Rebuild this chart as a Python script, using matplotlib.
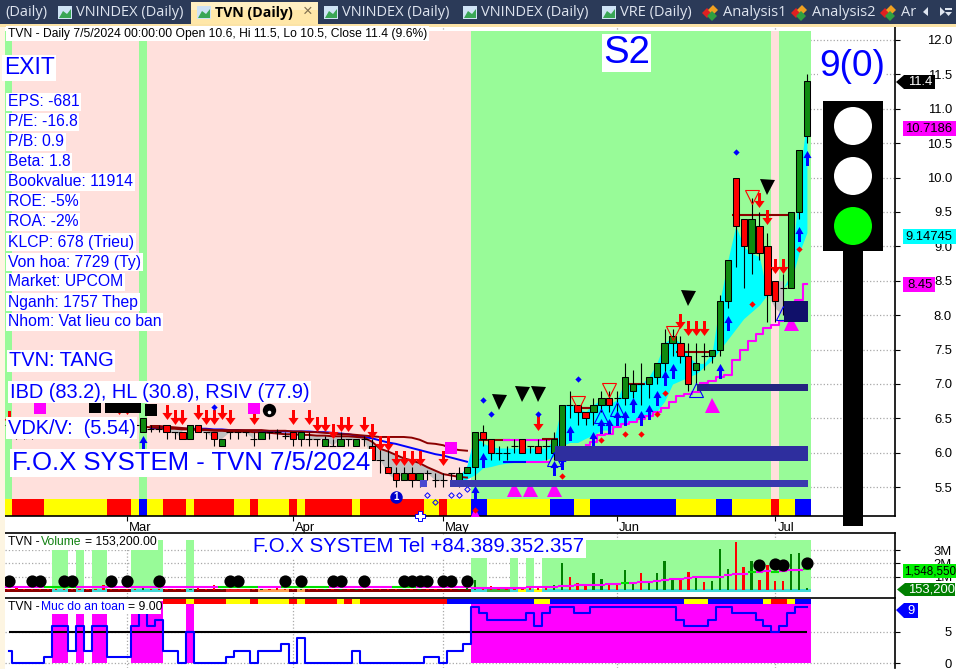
import numpy as np
import matplotlib

matplotlib.use("Agg")
import matplotlib.pyplot as plt
from matplotlib.patches import Circle, Polygon, Rectangle
from matplotlib.path import Path
from matplotlib.transforms import ScaledTranslation

plt.rcParams["font.family"] = ["Liberation Sans", "DejaVu Sans"]

W, H = 956, 669
BLUE = "#0000ff"
PINK_BG = "#ffe0dc"
GREEN_BG = "#98fb98"

# ── Price data ────────────────────────────────────────────────────────────
opens = [6.4, 6.3, 6.3, 6.3, 6.4, 6.4, 6.4, 6.4, 6.4, 6.4, 6.4, 6.4, 6.4, 6.4, 6.4, 6.4, 6.4,
         6.3, 6.35, 6.35, 6.4, 6.3, 6.3, 6.2, 6.4, 6.3, 6.3, 6.1, 6.3, 6.3, 6.3, 6.2, 6.2, 6.3,
         6.3, 6.25, 6.3, 6.2, 6.2, 6.2, 6.1, 6.1, 6.1, 6.2, 6.1, 6.2, 6.1, 5.9, 5.8, 5.7, 5.6,
         5.7, 5.6, 5.7, 5.6, 5.6, 5.7, 5.6, 5.7, 5.8, 6.3, 6.2, 6.0, 6.0, 6.1, 6.2, 6.1, 6.1,
         6.1, 6.0, 6.1, 6.7, 6.7, 6.6, 6.6, 6.7, 6.8, 6.8, 6.8, 6.9, 7.0, 7.0, 7.1, 7.3, 7.6,
         7.6, 7.4, 7.2, 7.4, 7.4, 7.5, 8.2, 10.0, 9.4, 8.9, 9.3, 9.0, 8.5, 8.4, 8.4, 9.5, 10.6]
highs = [6.5, 6.4, 6.4, 6.4, 6.5, 6.5, 6.5, 6.5, 6.5, 6.5, 6.5, 6.5, 6.5, 6.5, 6.5, 6.5, 6.5,
         6.5, 6.4, 6.4, 6.4, 6.3, 6.3, 6.4, 6.4, 6.3, 6.3, 6.2, 6.3, 6.3, 6.3, 6.3, 6.3, 6.3,
         6.35, 6.3, 6.3, 6.3, 6.3, 6.2, 6.25, 6.2, 6.3, 6.2, 6.2, 6.25, 6.2, 6.1, 6.1, 5.8, 5.8,
         5.8, 5.7, 5.75, 5.7, 5.7, 5.7, 5.8, 5.8, 6.3, 6.4, 6.2, 6.1, 6.1, 6.2, 6.2, 6.1, 6.2,
         6.2, 6.3, 6.7, 6.9, 6.7, 6.6, 6.8, 6.9, 6.9, 6.9, 7.3, 7.2, 7.3, 7.1, 7.3, 7.8, 7.8,
         7.7, 7.6, 7.6, 7.6, 7.5, 8.3, 8.8, 10.0, 9.4, 9.7, 9.5, 9.2, 8.5, 8.6, 9.5, 10.4, 11.5]
lows = [6.3, 6.2, 6.2, 6.2, 6.3, 6.3, 6.3, 6.3, 6.3, 6.3, 6.3, 6.3, 6.3, 6.3, 6.3, 6.3, 6.3,
        6.3, 6.3, 6.3, 6.2, 6.2, 6.2, 6.2, 6.3, 6.2, 6.1, 6.1, 6.2, 6.2, 6.25, 6.1, 6.2, 6.2,
        6.2, 6.2, 6.1, 6.1, 6.1, 6.1, 6.1, 6.1, 6.1, 6.1, 6.1, 6.1, 5.9, 5.7, 5.7, 5.5, 5.6,
        5.5, 5.5, 5.6, 5.5, 5.5, 5.6, 5.5, 5.7, 5.6, 6.1, 5.9, 5.9, 5.9, 6.0, 6.0, 6.0, 6.0,
        5.9, 5.9, 6.1, 6.5, 6.4, 6.4, 6.4, 6.6, 6.6, 6.6, 6.7, 6.8, 6.7, 6.8, 7.0, 7.1, 7.4,
        7.3, 6.9, 7.0, 7.2, 7.3, 7.4, 8.1, 8.7, 8.4, 8.6, 8.8, 7.9, 7.9, 8.0, 8.4, 9.4, 10.5]
closes = [6.4, 6.3, 6.3, 6.3, 6.4, 6.4, 6.4, 6.4, 6.4, 6.4, 6.4, 6.4, 6.4, 6.4, 6.4, 6.4, 6.4,
          6.5, 6.35, 6.35, 6.3, 6.3, 6.2, 6.4, 6.3, 6.3, 6.2, 6.2, 6.3, 6.3, 6.3, 6.2, 6.3, 6.3,
          6.3, 6.25, 6.2, 6.3, 6.2, 6.2, 6.2, 6.1, 6.2, 6.2, 6.2, 6.2, 5.9, 5.9, 5.7, 5.6, 5.7,
          5.6, 5.7, 5.7, 5.6, 5.6, 5.7, 5.7, 5.8, 6.3, 6.2, 6.0, 6.0, 6.0, 6.1, 6.0, 6.1, 6.0,
          6.1, 6.2, 6.7, 6.7, 6.6, 6.5, 6.7, 6.8, 6.7, 6.8, 7.1, 7.0, 7.0, 7.1, 7.3, 7.6, 7.7,
          7.4, 7.0, 7.3, 7.4, 7.5, 8.2, 8.8, 9.3, 9.0, 9.4, 8.9, 8.3, 8.2, 8.4, 9.5, 10.4, 11.4]

# green regime bars, the rest is pink
green_bars = [0, 17] + list(range(59, 97)) + list(range(98, 102))

# colour strip under the candles, as (colour, number of bars)
strip_runs = [("y", 1), ("r", 4), ("y", 8), ("r", 3), ("y", 1), ("b", 1), ("y", 2), ("r", 3),
              ("y", 1), ("r", 5), ("y", 2), ("r", 1), ("y", 4), ("r", 1), ("y", 1), ("r", 6),
              ("y", 1), ("r", 8), ("y", 2), ("r", 1), ("y", 3), ("b", 2), ("y", 8), ("b", 3),
              ("y", 2), ("b", 11), ("y", 5), ("b", 2), ("y", 5), ("r", 1), ("y", 2), ("b", 2)]

ma_hi_start = 18
ma_hi = [6.39, 6.39, 6.38, 6.37, 6.36, 6.35, 6.34, 6.34, 6.33, 6.33, 6.33, 6.33, 6.33, 6.33,
         6.33, 6.32, 6.32, 6.32, 6.31, 6.31, 6.30, 6.30, 6.29, 6.28, 6.27, 6.27, 6.26, 6.25,
         6.24, 6.23, 6.23, 6.23, 6.23, 6.22, 6.19, 6.14, 6.13, 6.11, 6.06, 6.04, 6.03]
ma_blue_start = 18
ma_blue = [6.36, 6.36, 6.36, 6.36, 6.35, 6.35, 6.35, 6.35, 6.34, 6.34, 6.33, 6.33, 6.32, 6.32,
           6.32, 6.31, 6.31, 6.31, 6.31, 6.31, 6.31, 6.30, 6.30, 6.29, 6.28, 6.27, 6.25, 6.23,
           6.21, 6.18, 6.15, 6.13, 6.10, 6.07, 6.04, 6.01, 5.98, 5.96, 5.93, 5.90, 5.87]
ma_lo_start = 17
ma_lo = [6.38, 6.37, 6.36, 6.35, 6.35, 6.34, 6.34, 6.33, 6.33, 6.32, 6.32, 6.31, 6.31, 6.31,
         6.30, 6.30, 6.29, 6.28, 6.27, 6.27, 6.26, 6.26, 6.25, 6.25, 6.24, 6.24, 6.24, 6.23,
         6.22, 6.16, 6.06, 6.02, 5.97, 5.92, 5.89, 5.85, 5.79, 5.74, 5.69, 5.67, 5.65, 5.64]

stop_start = 73
stop_line = [6.11, 6.16, 6.26, 6.27, 6.38, 6.42, 6.45, 6.49, 6.53, 6.60, 6.65, 6.74, 6.82, 6.86,
             6.89, 7.01, 7.04, 7.10, 7.13, 7.35, 7.49, 7.63, 7.73, 7.81, 7.86, 7.91, 8.12,
             8.22, 8.45]

cyan_start = 57
cyan_top = [5.65, 5.82, 6.28, 6.14, 6.09, 6.07, 6.07, 6.07, 6.07, 6.07, 6.07, 6.07, 6.19, 6.70,
            6.70, 6.65, 6.60, 6.70, 6.78, 6.70, 6.78, 7.05, 6.99, 7.00, 7.10, 7.30, 7.60, 7.68,
            7.60, 7.40, 7.30, 7.30, 7.45, 8.20, 8.80, 9.30, 9.00, 8.90, 8.85, 8.30, 8.30, 8.40,
            8.60, 9.90, 10.90]
cyan_bot = [5.56, 5.62, 5.68, 5.78, 5.80, 5.83, 5.85, 5.86, 5.88, 5.88, 5.88, 5.90, 5.95, 6.10,
            6.15, 6.15, 6.21, 6.26, 6.33, 6.33, 6.38, 6.43, 6.45, 6.50, 6.55, 6.60, 6.75, 7.00,
            7.05, 7.10, 7.15, 7.25, 7.35, 7.50, 7.65, 7.80, 7.95, 8.05, 8.15, 8.30, 8.30, 8.40,
            8.50, 8.90, 9.20]
grey_idx = [96, 97, 98]
grey_top = [8.30, 8.50, 8.50]
grey_bot = [8.30, 8.10, 8.00]

# flat segments: first bar, last bar, price, colour
seg_start = [60, 63, 68, 72, 73, 79, 85, 92, 63, 66]
seg_end = [63, 68, 69, 73, 74, 80, 89, 99, 65, 68]
seg_price = [6.18, 6.18, 6.20, 6.65, 6.65, 7.00, 7.47, 9.46, 5.86, 5.86]
seg_color = ["#8b0000", "#ff00ff", "#8b0000", "#ff00ff", "#8b0000", "#8b0000", "#8b0000", "#8b0000",
             BLUE, "#ff00ff"]

# dark blue zones: first bar, last bar, low, high, colour
zone_start = [55.85, 52.0, 69.1, 87.1, 98.1]
zone_end = [101.14, 53.0, 101.14, 101.14, 101.14]
zone_lo = [5.5, 5.5, 5.88, 6.9, 7.9]
zone_hi = [5.6, 5.6, 6.10, 7.0, 8.2]
zone_color = ["#3a3aae", "#4a4ad0", "#2e2e9e", "#24247f", "#10106a"]

up_idx = [17, 59, 60, 69, 70, 71, 74, 75, 76, 77, 78, 79, 80, 81, 82, 83, 84, 90, 91, 100, 101]
up_val = [6.14, 5.41, 5.90, 5.78, 5.87, 6.29, 6.20, 6.39, 6.39, 6.50, 6.50, 6.69, 6.50, 6.59, 6.79,
          7.09, 7.19, 7.19, 7.89, 9.18, 10.29]
down_idx = [0, 14, 15, 20, 21, 22, 24, 25, 26, 27, 28, 31, 36, 38, 39, 40, 41, 42, 43, 45, 46, 47, 48,
            49, 50, 51, 52, 55, 67, 85, 86, 87, 88, 95, 96, 97, 98]
down_val = [6.50, 6.66, 6.66, 6.60, 6.52, 6.52, 6.60, 6.52, 6.52, 6.60, 6.52, 6.52, 6.52, 6.52, 6.42,
            6.42, 6.32, 6.42, 6.42, 6.42, 6.32, 6.14, 6.14, 5.92, 5.92, 5.92, 5.92, 5.92, 6.43, 7.92,
            7.81, 7.81, 7.81, 9.68, 9.43, 8.71, 8.71]
red_tri_idx = [72, 76, 84, 94]
red_tri_val = [6.72, 6.91, 7.74, 9.72]
blue_tri_idx = [69, 75, 77, 87, 98]
blue_tri_val = [5.91, 6.53, 6.63, 6.91, 8.03]
black_tri_idx = [62, 65, 67, 86, 96]
black_tri_val = [6.74, 6.85, 6.85, 8.25, 9.87]
mag_tri_idx = [59, 64, 66, 69, 89, 99]
mag_tri_val = [5.10, 5.47, 5.47, 5.47, 6.70, 7.88]
red_dia_idx = [59, 70, 75, 78, 80, 82, 83, 94, 100]
red_dia_val = [5.17, 5.66, 6.18, 6.28, 6.28, 6.57, 6.87, 8.16, 8.96]
blue_dia_idx = [26, 60, 61, 67, 72, 92]
blue_dia_val = [6.66, 6.77, 6.56, 6.56, 7.07, 10.37]
hollow_dia_idx = [53, 54, 56, 57, 58]
hollow_dia_val = [5.39, 5.29, 5.39, 5.39, 5.48]
mag_sq_idx = [4, 31, 56]
mag_sq_val = [6.65, 6.65, 6.07]
black_sq_idx = [11, 13, 14, 15, 16, 18]
black_sq_val = [6.66, 6.66, 6.66, 6.66, 6.66, 6.62]

month_idx = [15, 36, 55, 77, 97]
month_labels = ["Mar", "Apr", "May", "Jun", "Jul"]
price_ticks = [5.5, 6.0, 6.5, 7.0, 7.5, 8.0, 8.5, 9.0, 9.5, 10.0, 10.5, 11.0, 11.5, 12.0]

# ── Volume data (millions) ────────────────────────────────────────────────
volumes = [0.1, 0.3, 0.08, 0.1, 0.08, 0.1, 0.08, 0.1, 0.08, 0.1, 0.08, 0.1, 0.4, 0.08, 0.1, 0.08, 0.1,
           0.2, 0.08, 0.1, 0.08, 0.1, 0.08, 0.1, 0.2, 0.08, 0.35, 0.1, 0.08, 0.1, 0.08, 0.1, 0.08,
           0.1, 0.2, 0.08, 0.1, 0.08, 0.1, 0.08, 0.1, 0.08, 0.1, 0.08, 0.1, 0.08, 0.1, 0.08, 0.1,
           0.08, 0.1, 0.08, 0.1, 0.08, 0.1, 0.08, 0.1, 0.08, 0.12, 0.75, 0.2, 0.3, 0.12, 0.12, 0.17,
           0.12, 0.12, 0.2, 0.25, 0.38, 2.05, 1.0, 0.55, 0.42, 1.3, 0.82, 0.42, 0.5, 1.5, 0.5, 1.3,
           0.55, 1.3, 2.18, 0.8, 0.88, 1.38, 0.93, 0.62, 0.7, 3.08, 1.58, 3.6, 1.75, 2.2, 0.75, 1.88,
           0.7, 0.7, 2.7, 2.8, 0.1532]
vol_ma = [0.2] * 59 + [0.13, 0.13, 0.14, 0.14, 0.15, 0.16, 0.18, 0.2, 0.22, 0.25, 0.25, 0.3, 0.3, 0.35,
                       0.35, 0.38, 0.4, 0.45, 0.45, 0.5, 0.55, 0.6, 0.62, 0.7, 0.72, 0.8, 0.85, 0.88,
                       0.95, 1.0, 1.0, 1.0, 1.1, 1.2, 1.22, 1.35, 1.35, 1.42, 1.38, 1.45, 1.5, 1.5, 1.55]
vol_ma_green = [5, 6, 7, 8, 27, 28, 29, 30, 31, 35, 36, 37, 38, 39, 40, 49, 50, 51, 78, 94, 97, 101]
vol_green_bg = [6, 7, 9, 11, 12, 16, 17, 18, 19, 23, 59, 60, 64, 66] + list(range(68, 102))
dot_idx = [0, 3, 4, 7, 8, 13, 15, 19, 28, 29, 35, 37, 41, 42, 45, 50, 51, 52, 53, 55, 56, 58,
           95, 97, 98, 101]
dot_val = [0.68] * 22 + [1.85, 1.93, 1.85, 2.0]
vol_strip_runs = [("m", 6), ("t", 2), ("m", 1), ("t", 1), ("m", 1), ("t", 2), ("m", 3), ("t", 4), ("m", 3),
                  ("t", 1), ("m", 4), ("e", 3), ("m", 1), ("o", 4), ("m", 1), ("o", 1), ("m", 21),
                  ("t", 2), ("g", 3), ("t", 1), ("y", 1), ("t", 1), ("y", 1), ("t", 34)]
vol_ticks = [1, 2, 3]
vol_tick_labels = ["1M", "2M", "3M"]

# ── Safety level data ─────────────────────────────────────────────────────
safety = [2, 0, 0, 0, 0, 1, 6, 6, 2, 6, 2, 6, 6, 1, 1, 1, 6, 8, 6, 7, 2, 2, 0, 5, 0, 0, 0, 0, 1, 2, 2, 0,
          2, 2, 2, 3, 0, 4, 0, 0, 0, 0, 0, 0, 2, 0, 0, 0, 0, 0, 0, 0, 0, 1, 1, 0, 2, 2, 3,
          9, 8, 7, 7, 7, 7, 7, 8, 6, 8, 9, 9, 9, 8, 8, 9, 9, 9, 9, 9, 9, 9, 9, 9, 9, 9, 7, 6, 6, 6, 7,
          9, 9, 8, 8, 8, 7, 6, 5, 6, 8, 9, 9]
safe_columns = [6, 7, 9, 11, 12, 16, 17, 18, 19, 23] + list(range(59, 102))
safe_strip_runs = [("r", 23), ("y", 1), ("r", 4), ("y", 3), ("r", 1), ("y", 4), ("r", 1), ("y", 1), ("r", 4),
                   ("y", 1), ("r", 1), ("y", 1), ("r", 11), ("b", 11), ("y", 2), ("b", 17), ("y", 3),
                   ("b", 7), ("y", 1), ("r", 2), ("y", 1), ("b", 2)]
# the strip only shows right of the label
safe_strip_first = 20
safe_ticks = [0, 5]

tabs = [("(Daily)", 5, None), ("VNINDEX (Daily)", 76, "i"), ("VNINDEX (Daily)", 342, "i"),
        ("VNINDEX (Daily)", 481, "i"), ("VRE (Daily)", 620, "i"), ("Analysis1", 723, "h"),
        ("Analysis2", 812, "h"), ("Ar", 901, "h")]
info_lines = ["EPS: -681", "P/E: -16.8", "P/B: 0.9", "Beta: 1.8", "Bookvalue: 11914", "ROE: -5%", "ROA: -2%",
              "KLCP: 678 (Trieu)", "Von hoa: 7729 (Ty)", "Market: UPCOM", "Nganh: 1757 Thep",
              "Nhom: Vat lieu co ban"]


def expand(runs):
    out = []
    for c, n in runs:
        out += [c] * n
    return out


def pix_axes(fig, x0, y0, x1, y1):
    return fig.add_axes([x0 / W, 1 - y1 / H, (x1 - x0) / W, (y1 - y0) / H])


def arrow_marker(direction, half):
    v = [(0, .5), (half, .03), (.1, .03), (.1, -.5), (-.1, -.5), (-.1, .03), (-half, .03), (0, .5)]
    return Path([(x, y * direction) for x, y in v], closed=True)


fig = plt.figure(figsize=(W / 100, H / 100), dpi=100, facecolor="white")

# x position of bar i in pixels is 8.5 + 7.905 * i
x_lim = ((5 - 8.5) / 7.905, (895 - 8.5) / 7.905)
n = len(closes)
bars = np.arange(n)
o, h, l, c = map(np.array, (opens, highs, lows, closes))

ax1 = pix_axes(fig, 5, 27, 895, 516)
ax2 = pix_axes(fig, 5, 533, 895, 597)
ax3 = pix_axes(fig, 5, 598, 895, 668)

for ax, keep in ((ax1, ("right", "bottom")), (ax2, ("right", "top")), (ax3, ("right", "top"))):
    ax.set_xlim(*x_lim)
    ax.set_facecolor("white")
    for name, sp in ax.spines.items():
        sp.set_visible(name in keep)
        sp.set_linewidth(1.2)
    ax.set_xticks(month_idx)
    ax.yaxis.tick_right()
    ax.grid(True, color="#a8a8a8", linestyle=":", linewidth=0.9)
    ax.set_axisbelow(True)
    ax.tick_params(axis="y", length=3.6, width=0.8, pad=37.4, labelsize=9.4, colors="black")

# ── Price panel ───────────────────────────────────────────────────────────
ax1.set_ylim(12 - 476 / 68.8, 12 + 13 / 68.8)
ax1.set_yticks(price_ticks)
ax1.set_yticklabels([f"{p:.1f}" for p in price_ticks])
for t in ax1.get_yticklabels():
    t.set_ha("right")
ax1.set_xticklabels(month_labels, fontsize=9.4)
ax1.tick_params(axis="x", length=3.6, width=0.8, pad=0.5)
shift = ScaledTranslation(2 / 100, 0, fig.dpi_scale_trans)
for t in ax1.get_xticklabels():
    t.set_ha("left")
    t.set_transform(t.get_transform() + shift)

y_floor = 12 - 476 / 68.8
bg_top = 12 - (31 - 40) / 68.8
bg_colors = [GREEN_BG if i in green_bars else PINK_BG for i in bars]
ax1.bar(bars, bg_top - y_floor, bottom=y_floor, width=1.0, color=bg_colors, linewidth=0, antialiased=False, zorder=1)

strip_colors = {"r": "#ff0000", "y": "#ffff00", "b": "#0000ff"}
ax1.bar(bars, 0.25, bottom=y_floor, width=1.0, color=[strip_colors[k] for k in expand(strip_runs)],
        linewidth=0, antialiased=False, zorder=2)

x_cyan = np.arange(cyan_start, cyan_start + len(cyan_top))
ax1.fill_between(x_cyan, cyan_bot, cyan_top, color="#00ffff", linewidth=0, zorder=2)
ax1.fill_between(grey_idx, grey_bot, grey_top, color="#c0c0c0", linewidth=0, zorder=2)
x_lo = np.arange(ma_lo_start, ma_lo_start + len(ma_lo))
ax1.fill_between(x_lo, c[x_lo], ma_lo, where=c[x_lo] < np.array(ma_lo), color="#c0c0c0", linewidth=0, zorder=2)

ax1.plot(np.arange(ma_blue_start, ma_blue_start + len(ma_blue)), ma_blue, color=BLUE, lw=1.4, zorder=3)
ax1.plot(np.arange(ma_hi_start, ma_hi_start + len(ma_hi)), ma_hi, color="#8b0000", lw=1.4, zorder=3)
ax1.plot(x_lo, ma_lo, color="#8b0000", lw=1.4, zorder=3)
ax1.step(np.arange(stop_start, stop_start + len(stop_line)), stop_line, where="mid", color="#ff00ff", lw=1.5, zorder=3)
for a, b, p, col in zip(seg_start, seg_end, seg_price, seg_color):
    ax1.plot([a - .5, b + .5], [p, p], color=col, lw=1.5, zorder=3, solid_capstyle="butt")


def marks(idx, val, marker, size, color, z=6, **kw):
    kw.setdefault("markeredgewidth", 0)
    ax1.plot(idx, val, linestyle="none", marker=marker, markersize=size, color=color, zorder=z, **kw)


marks(mag_tri_idx, mag_tri_val, "^", 10.8, "#ff00ff", z=3.5)

# candles
ax1.vlines(bars, l, h, color="black", linewidth=0.8, zorder=4.5)
is_doji = np.isclose(o, c)
ax1.hlines(o[is_doji], bars[is_doji] - .45, bars[is_doji] + .45, color="black", linewidth=0.8, zorder=5)
body = ~is_doji
ax1.bar(bars[body], np.abs(c - o)[body], bottom=np.minimum(o, c)[body], width=0.8,
        color=["#0f8a10" if up else "#ff0000" for up in (c > o)[body]],
        edgecolor="black", linewidth=0.75, zorder=5)

marks(up_idx, up_val, arrow_marker(1, .27), 10.8, BLUE)
marks(down_idx, down_val, arrow_marker(-1, .34), 10.8, "#ff0000")
marks(red_tri_idx, red_tri_val, "v", 10.5, "none", markeredgecolor="#ff0000", markeredgewidth=0.8)
marks(blue_tri_idx, blue_tri_val, "^", 10.5, "none", markeredgecolor=BLUE, markeredgewidth=0.8)
marks(black_tri_idx, black_tri_val, "v", 10.8, "black")
marks(red_dia_idx, red_dia_val, "D", 3.2, "#ff0000", z=7)
marks(blue_dia_idx, blue_dia_val, "D", 3.2, BLUE)
marks(hollow_dia_idx, hollow_dia_val, "D", 2.8, "none", markeredgecolor=BLUE, markeredgewidth=0.7)
marks(mag_sq_idx, mag_sq_val, "s", 8.6, "#ff00ff")
marks(black_sq_idx, black_sq_val, "s", 8.0, "black")
marks([33], [6.62], "o", 9.6, "black")
marks([33], [6.60], "o", 2.6, "white", z=6.5)
marks([49], [5.36], "o", 9.0, "#0000cc", z=7)
ax1.text(49, 5.36, "1", color="white", fontsize=7, fontweight="bold", ha="center", va="center", zorder=7.5)
marks([52.05], [5.08], "P", 7.5, "white", markeredgecolor=BLUE, markeredgewidth=0.7, clip_on=False, z=9)

for a, b, lo, hi, col in zip(zone_start, zone_end, zone_lo, zone_hi, zone_color):
    ax1.barh(lo, b - a, left=a, height=hi - lo, align="edge", color=col, linewidth=0, zorder=8)

# ── Volume panel ──────────────────────────────────────────────────────────
ax2.set_ylim(-7 / 13.3, 57 / 13.3)
ax2.set_yticks(vol_ticks)
ax2.set_yticklabels(vol_tick_labels)
for t in ax2.get_yticklabels():
    t.set_ha("right")
ax2.set_xticklabels([])
ax2.tick_params(axis="x", length=0)
ax2.bar(vol_green_bg, 3.76 - 0.1, bottom=0.1, width=1.0, color=GREEN_BG, linewidth=0, antialiased=False, zorder=1)
vol_strip_colors = {"m": "#8b0000", "t": "#40d8d8", "e": "#e02020", "o": "#ffa050", "g": "#40b040", "y": "#ffff00"}
ax2.bar(bars, 0.25, bottom=-0.15, width=1.0, color=[vol_strip_colors[k] for k in expand(vol_strip_runs)],
        linewidth=0, antialiased=False, zorder=2)
ax2.bar(bars, volumes, width=0.3, color=["#008000" if up else "#ff0000" for up in c > o], linewidth=0, zorder=3)
for i, m in enumerate(vol_ma):
    ax2.plot([i - .5, i + .5], [m, m], color="#00e000" if i in vol_ma_green else "#ff00ff", lw=1.5,
             solid_capstyle="butt", zorder=4)
ax2.plot(dot_idx, dot_val, linestyle="none", marker="o", markersize=8.8, color="black", markeredgewidth=0, zorder=5)

# ── Safety panel ──────────────────────────────────────────────────────────
ax3.set_ylim(-5 / 6.2, 65 / 6.2)
ax3.set_yticks(safe_ticks)
ax3.set_yticklabels([str(v) for v in safe_ticks])
for t in ax3.get_yticklabels():
    t.set_ha("right")
ax3.set_xticklabels([])
ax3.tick_params(axis="x", length=0)
ax3.bar(safe_columns, 10.0, bottom=0, width=1.0, color="#ff00ff", linewidth=0, antialiased=False, zorder=1)
strip_safe = expand(safe_strip_runs)
ax3.bar(bars[safe_strip_first:], 0.85, bottom=9.55, width=1.0,
        color=[strip_colors[k] for k in strip_safe[safe_strip_first:]],
        linewidth=0, antialiased=False, zorder=2)
ax3.hlines(5, 0, n - 1, color="black", linewidth=1.5, zorder=3)
ax3.step(bars, safety, where="mid", color=BLUE, linewidth=1.5, zorder=4)

# ── Overlay in pixel coordinates: window chrome, labels, traffic light ───
ov = fig.add_axes([0, 0, 1, 1], zorder=10)
ov.set_xlim(0, W)
ov.set_ylim(H, 0)
ov.axis("off")
ov.patch.set_alpha(0)


def box(x0, y0, x1, y1, color, z=1):
    ov.add_patch(Rectangle((x0, y0), x1 - x0, y1 - y0, facecolor=color, edgecolor="none", zorder=z))


def label(x, y, s, size, color=BLUE, **kw):
    pad = kw.pop("pad", 1.2)
    ov.text(x, y, s, fontsize=size, color=color, ha="left", va="center",
            bbox=dict(facecolor="white", edgecolor="none", pad=pad), zorder=5, **kw)


box(0, 0, W, 24, "#2b3a58")
box(0, 24, W, 27, "#fbe3a6")
box(0, 27, 5, H, "#fdf5e2")
box(191, 2, 318, 24, "#ffe7a8")
box(191, 2, 318, 10, "#fff0c4", z=1.1)

for text, x, icon in tabs:
    ov.text(x, 12.5, text, fontsize=10.5, color="#dfe5f0", family=["Open Sans", "DejaVu Sans"], ha="left", va="center",
            clip_on=True, zorder=3)
    if icon == "i":
        box(x - 18, 6, x - 4, 19, "#cfe3f5", z=2)
        ov.add_patch(Polygon([(x - 17, 18), (x - 13, 11), (x - 9, 14), (x - 5, 9), (x - 5, 18)], facecolor="#3aa655",
                             edgecolor="none", zorder=2.5))
    elif icon == "h":
        ov.plot([x - 16], [13], "D", ms=5, color="#e02020", mew=0, zorder=2)
        ov.plot([x - 10], [10], "D", ms=5, color="#f0a020", mew=0, zorder=2)
        ov.plot([x - 11], [16], "D", ms=5, color="#30a040", mew=0, zorder=2)

box(197, 6, 211, 19, "#cfe3f5", z=2)
ov.add_patch(Polygon([(198, 18), (202, 11), (206, 14), (210, 9), (210, 18)], facecolor="#3aa655", edgecolor="none",
                     zorder=2.5))
ov.text(215, 12.5, "TVN (Daily)", fontsize=10.2, fontweight="bold", color="black",
        family=["Open Sans", "DejaVu Sans"], ha="left", va="center", zorder=3)
ov.text(308, 11.5, "×", fontsize=12, color="#807050", ha="center", va="center", zorder=3)
ov.add_patch(Polygon([(923, 12), (928, 7), (928, 16)], facecolor="#dfe5f0", edgecolor="none", zorder=3))
ov.add_patch(Polygon([(940, 7), (945, 12), (940, 16)], facecolor="#dfe5f0", edgecolor="none", zorder=3))
box(945, 8, 952, 10, "#dfe5f0", z=3)
ov.add_patch(Polygon([(945, 12), (952, 12), (948.5, 16)], facecolor="#dfe5f0", edgecolor="none", zorder=3))

label(8, 33.5, "TVN - Daily 7/5/2024 00:00:00 Open 10.6, Hi 11.5, Lo 10.5, Close 11.4 (9.6%)", 8.75, color="black")
label(4, 68, "EXIT", 16.5)
for i, line in enumerate(info_lines):
    label(8, 102 + 20 * i, line, 11.3)
label(9, 361, "TVN: TANG", 14.4)
label(10, 392, "IBD (83.2), HL (30.8), RSIV (77.9)", 14.4)
label(8, 428, "VDK/V:  (5.54)", 14.4)
label(12, 463, "F.O.X SYSTEM - TVN 7/5/2024", 18.5)
label(603, 53, "S2", 27.6, pad=0.5)
label(819, 67, "9(0)", 26.7, pad=0.5)
label(253, 547, "F.O.X SYSTEM Tel +84.389.352.357", 14.7)
box(7, 534, 158, 550, "white", z=4)
box(7, 599, 161, 614, "white", z=4)
ov.text(8, 542, "TVN -", fontsize=8.7, color="black", ha="left", va="center", zorder=6)
ov.text(41, 542, "Volume", fontsize=8.7, color="#108010", ha="left", va="center", zorder=6)
ov.text(85, 542, "= 153,200.00", fontsize=8.7, color="black", ha="left", va="center", zorder=6)
ov.text(8, 607.5, "TVN -", fontsize=8.7, color="black", ha="left", va="center", zorder=6)
ov.text(41, 607.5, "Muc do an toan", fontsize=8.7, color=BLUE, ha="left", va="center", zorder=6)
ov.text(128, 607.5, "= 9.00", fontsize=8.7, color="black", ha="left", va="center", zorder=6)

# traffic light
box(843, 251, 863, 526, "black", z=3)
box(823, 101, 883, 251, "black", z=3)
for cy, col in ((126, "white"), (176, "white"), (226, "#00ff00")):
    ov.add_patch(Circle((853, cy), 19, facecolor=col, edgecolor="none", zorder=4))

# value tags on the scale
box(903, 121, 956, 136, "#ff00ff", z=4)
ov.text(905, 128.5, "10.7186", fontsize=9.4, color="black", va="center", zorder=6)
box(903, 229, 956, 244, "#00ffff", z=4)
ov.text(905, 236.5, "9.14745", fontsize=9.4, color="black", va="center", zorder=6)
box(903, 277, 935, 292, "#ff00ff", z=4)
ov.text(907, 284.5, "8.45", fontsize=9.4, color="black", va="center", zorder=6)
box(903, 564, 956, 578, "#00ee00", z=4)
ov.text(904, 571, "1,548,550", fontsize=8.4, color="black", va="center", zorder=6)
ov.add_patch(Polygon([(896, 82), (904, 75), (935, 75), (935, 89), (904, 89)], facecolor="black", edgecolor="none", zorder=4))
ov.text(908, 82, "11.4", fontsize=9.4, color="white", va="center", zorder=6)
ov.add_patch(Polygon([(897, 589.5), (905, 583), (955, 583), (955, 596), (905, 596)], facecolor="#008000", edgecolor="none", zorder=4))
ov.text(908, 589.5, "153,200", fontsize=9.4, color="white", va="center", zorder=6)
ov.add_patch(Polygon([(896, 610), (904, 603), (918, 603), (918, 618), (904, 618)], facecolor="#0000ff", edgecolor="none", zorder=4))
ov.text(907, 610.5, "9", fontsize=9.4, color="white", va="center", zorder=6)

fig.savefig("out.png", dpi=100)
